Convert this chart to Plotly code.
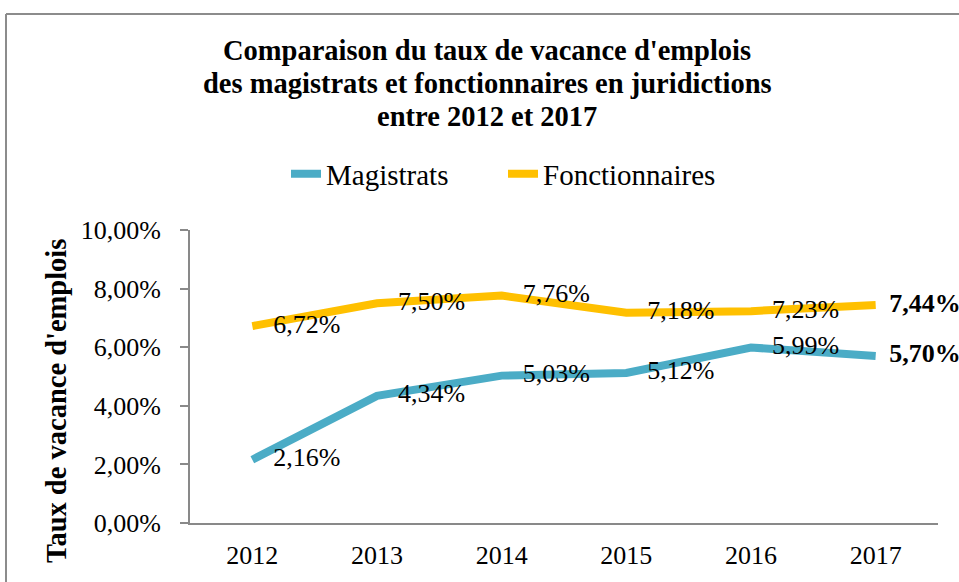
import plotly.graph_objects as go

years = ["2012", "2013", "2014", "2015", "2016", "2017"]
magistrats = [0.0216, 0.0434, 0.0503, 0.0512, 0.0599, 0.0570]
fonctionnaires = [0.0672, 0.0750, 0.0776, 0.0718, 0.0723, 0.0744]
series_names = ["Magistrats", "Fonctionnaires"]
colors = ["#4BACC6", "#FFC000"]
title_lines = ["Comparaison du taux de vacance d'emplois",
               "des magistrats et fonctionnaires en juridictions",
               "entre 2012 et 2017"]
y_title = "Taux de vacance d'emplois"

FONT = "Liberation Serif"
W, H = 959, 582
# plot area in page pixels: x 190..938, y 230..523
L, R, T, B = 190, 959 - 938, 230, 582 - 523
PW, PH = W - L - R, H - T - B


def px_x(x):
    return (x - L) / PW


def px_y(y):
    return (H - B - y) / PH


def labels(vals):
    out = []
    for i, v in enumerate(vals):
        s = f"{v * 100:.2f}%".replace(".", ",")
        if i == len(vals) - 1:
            s = f"<b>{s}</b>"
        out.append(s)
    return out


fig = go.Figure()
for name, vals, col in zip(series_names, [magistrats, fonctionnaires], colors):
    fig.add_trace(go.Scatter(
        x=years, y=vals, name=name, mode="lines",
        line=dict(color=col, width=8),
        cliponaxis=False,
    ))
for name, vals in zip(series_names, [magistrats, fonctionnaires]):
    sizes = [32] * (len(vals) - 1) + [20]
    fig.add_trace(go.Scatter(
        x=years, y=vals, name=name, mode="markers+text", showlegend=False,
        marker=dict(size=sizes, color="rgba(0,0,0,0)",
                    line=dict(width=0, color="rgba(0,0,0,0)")),
        text=labels(vals), textposition="middle right",
        textfont=dict(family=FONT, size=26, color="#000000"),
        cliponaxis=False, hoverinfo="skip",
    ))

annotations = []
for line, yc in zip(title_lines, [50, 83, 116]):
    annotations.append(dict(
        text=f"<b>{line}</b>", xref="paper", yref="paper",
        x=px_x(487), y=px_y(yc), xanchor="center", yanchor="middle",
        showarrow=False, font=dict(family=FONT, size=28.5, color="#000000")))
annotations.append(dict(
    text=f"<b>{y_title}</b>", xref="paper", yref="paper",
    x=px_x(56), y=px_y(401), xanchor="center", yanchor="middle",
    textangle=-90, showarrow=False,
    font=dict(family=FONT, size=28.5, color="#000000")))

border = dict(color="#8C8C8C", width=2)
fig.update_layout(
    width=W, height=H,
    margin=dict(l=L, r=R, t=T, b=B, autoexpand=False),
    paper_bgcolor="white", plot_bgcolor="white",
    separators=", ",
    font=dict(family=FONT, size=26, color="#000000"),
    showlegend=True,
    legend=dict(orientation="h", x=px_x(286), y=px_y(174), xanchor="left",
                yanchor="middle", font=dict(family=FONT, size=29),
                entrywidth=172, entrywidthmode="pixels", itemwidth=30,
                bgcolor="rgba(0,0,0,0)"),
    annotations=annotations,
    shapes=[
        dict(type="line", xref="paper", yref="paper",
             x0=px_x(6), x1=px_x(965), y0=px_y(14), y1=px_y(14),
             line=border, layer="below"),
        dict(type="line", xref="paper", yref="paper",
             x0=px_x(6), x1=px_x(6), y0=px_y(14), y1=px_y(590),
             line=border, layer="below"),
    ],
    xaxis=dict(type="category", range=[-0.5, 5.5], showline=True,
               linecolor="#898989", linewidth=2, ticks="", showgrid=False,
               zeroline=False, ticklabelstandoff=8, automargin=False,
               tickfont=dict(family=FONT, size=26)),
    yaxis=dict(range=[0, 0.10], dtick=0.02, tickformat=".2%", showline=True,
               linecolor="#898989", linewidth=2, ticks="outside", ticklen=8,
               tickcolor="#898989", tickwidth=2, showgrid=False,
               zeroline=False, ticklabelstandoff=14, automargin=False,
               tickfont=dict(family=FONT, size=26)),
)

fig.write_html(
    "out.html",
    config={"displayModeBar": False},
    post_script="document.body.style.margin='0';"
                "document.body.style.overflow='hidden';",
)
